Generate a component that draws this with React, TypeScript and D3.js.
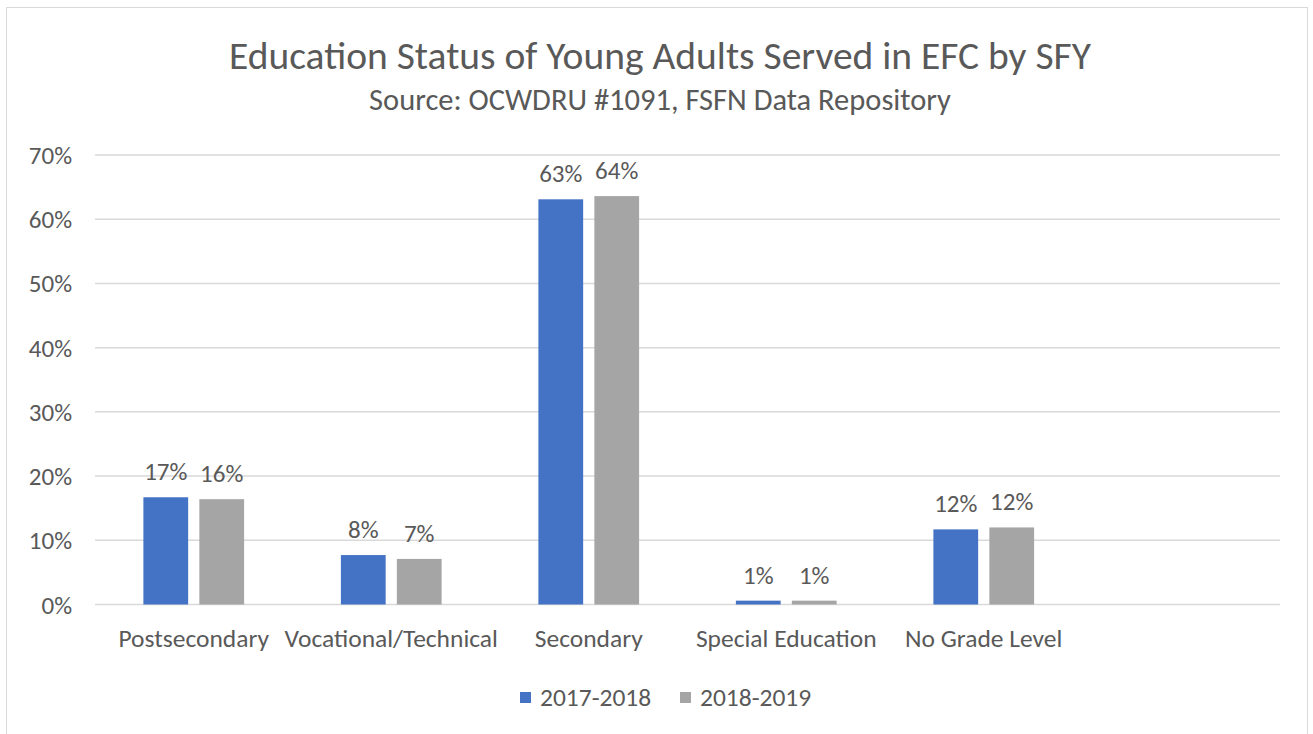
import * as d3 from "d3";

const categories = [
  "Postsecondary",
  "Vocational/Technical",
  "Secondary",
  "Special Education",
  "No Grade Level",
  "",
];
const seriesNames = ["2017-2018", "2018-2019"];
const values2017 = [16.7, 7.7, 63.1, 0.6, 11.7, null];
const values2018 = [16.4, 7.1, 63.6, 0.6, 12.0, null];
const labels2017 = ["17%", "8%", "63%", "1%", "12%", ""];
const labels2018 = ["16%", "7%", "64%", "1%", "12%", ""];
const yTicks = [0, 10, 20, 30, 40, 50, 60, 70];

const colors = ["#4472C4", "#A5A5A5"];
const textColor = "#595959";
const font = "Carlito, Calibri, Lato, sans-serif";

export default function App() {
  const width = 1313;
  const height = 734;
  const left = 95;
  const right = 1280;
  const top = 155;
  const bottom = 604.5;

  const x = d3.scaleBand<string>()
    .domain(categories.map((c, i) => String(i)))
    .range([left, right])
    .paddingInner(0.49)
    .paddingOuter(0.245);
  const xSub = d3.scaleBand<string>()
    .domain(seriesNames)
    .range([0, x.bandwidth()])
    .paddingInner(0.2);
  const y = d3.scaleLinear().domain([0, 70]).range([bottom, top]);

  const series = [values2017, values2018];
  const labels = [labels2017, labels2018];

  return (
    <svg
      width={width}
      height={height}
      style={{ position: "absolute", left: 0, top: 0, background: "#fff" }}
      fontFamily={font}
    >
      <rect x={6.5} y={7.5} width={1301} height={740} fill="#fff" stroke="#D9D9D9" />
      <text x={660} y={69} textAnchor="middle" fontSize={39.5} fill={textColor}>
        Education Status of Young Adults Served in EFC by SFY
      </text>
      <text x={660} y={110} textAnchor="middle" fontSize={30.5} fill={textColor}>
        Source: OCWDRU #1091, FSFN Data Repository
      </text>

      {yTicks.map((t) => (
        <g key={t}>
          <line x1={left} x2={right} y1={y(t)} y2={y(t)} stroke="#D9D9D9" strokeWidth={1.5} />
          <text x={72} y={y(t) + 9} textAnchor="end" fontSize={25} fill={textColor}>
            {t}%
          </text>
        </g>
      ))}

      {categories.map((c, i) => (
        <g key={i}>
          {series.map((vals, s) => {
            const v = vals[i];
            if (v == null) return null;
            const bx = (x(String(i)) ?? 0) + (xSub(seriesNames[s]) ?? 0);
            const bw = xSub.bandwidth();
            return (
              <g key={s}>
                <rect x={bx} y={y(v)} width={bw} height={y(0) - y(v)} fill={colors[s]} />
                <text
                  x={bx + bw / 2}
                  y={y(v) - 17}
                  textAnchor="middle"
                  fontSize={25}
                  fill={textColor}
                >
                  {labels[s][i]}
                </text>
              </g>
            );
          })}
          <text
            x={(x(String(i)) ?? 0) + x.bandwidth() / 2}
            y={647}
            textAnchor="middle"
            fontSize={25.5}
            fill={textColor}
          >
            {c}
          </text>
        </g>
      ))}

      {seriesNames.map((name, s) => (
        <g key={name} transform={`translate(${520 + s * 160},0)`}>
          <rect x={0} y={692} width={11} height={11} fill={colors[s]} />
          <text x={20} y={706} fontSize={25.5} fill={textColor}>
            {name}
          </text>
        </g>
      ))}
    </svg>
  );
}
